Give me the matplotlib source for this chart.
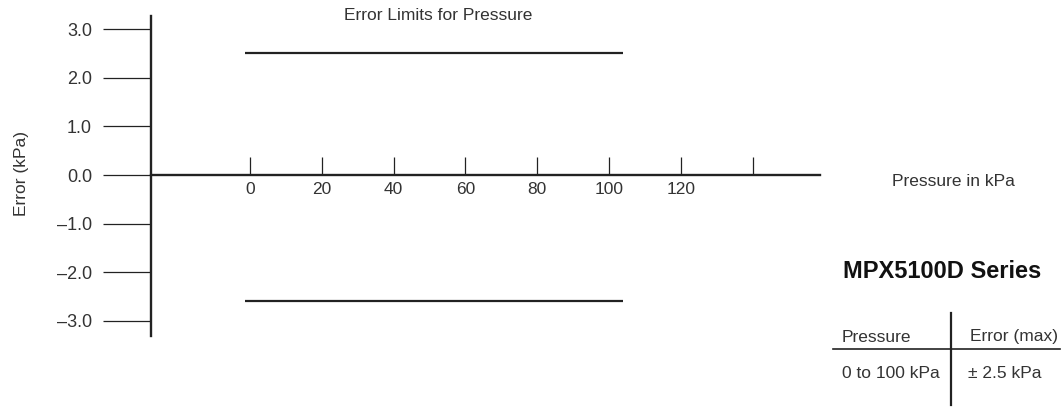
import matplotlib
matplotlib.use("Agg")
import matplotlib.pyplot as plt

# ---- data ----
pressure_ticks = [0, 20, 40, 60, 80, 100, 120, 140]
pressure_labels = ["0", "20", "40", "60", "80", "100", "120", ""]
error_ticks = [-3.0, -2.0, -1.0, 0.0, 1.0, 2.0, 3.0]
error_labels = ["\u20133.0", "\u20132.0", "\u20131.0", "0.0", "1.0", "2.0", "3.0"]
limit_x = [-1.5, 104]
upper_limit = [2.5, 2.5]
lower_limit = [-2.6, -2.6]

table_header = ["Pressure", "Error (max)"]
table_row = ["0 to 100 kPa", "\u00b1 2.5 kPa"]

FONT = ["Liberation Sans Narrow", "Liberation Sans", "DejaVu Sans"]
plt.rcParams["font.family"] = FONT
TXT = "#333333"
LINE = "#222222"

W, H = 1063, 408
fig = plt.figure(figsize=(W / 100, H / 100), dpi=100)

# main axes placed so data maps onto the reference pixel positions
ax = fig.add_axes([151 / W, 72 / H, (820 - 151) / W, 320 / H])
ax.set_xlim(-27.6, 158.8)
ax.set_ylim(-3.31, 3.27)

ax.plot(limit_x, upper_limit, color=LINE, lw=1.6, solid_capstyle="butt")
ax.plot(limit_x, lower_limit, color=LINE, lw=1.6, solid_capstyle="butt")

for s in ["top", "right"]:
    ax.spines[s].set_visible(False)
ax.spines["bottom"].set_position(("data", 0))
ax.spines["left"].set_linewidth(1.7)
ax.spines["bottom"].set_linewidth(1.7)
ax.spines["left"].set_color(LINE)
ax.spines["bottom"].set_color(LINE)

ax.set_yticks(error_ticks)
ax.set_yticklabels(error_labels)
ax.tick_params(axis="y", direction="out", length=34.5, width=0.9, pad=8,
               colors=LINE, labelcolor=TXT, labelsize=13)
ax.set_xticks(pressure_ticks)
ax.set_xticklabels(pressure_labels)
ax.tick_params(axis="x", direction="in", length=13, width=0.9, pad=5,
               colors=LINE, labelcolor=TXT, labelsize=12.5)

# overlay in pixel coordinates for texts and the small table
ov = fig.add_axes([0, 0, 1, 1])
ov.set_xlim(0, W)
ov.set_ylim(H, 0)
ov.axis("off")

ov.text(438, 16, "Error Limits for Pressure", ha="center", va="center",
        fontsize=12.5, color=TXT)
ov.text(22, 173, "Error (kPa)", ha="center", va="center", rotation=90,
        fontsize=12.5, color=TXT)
ov.text(953, 182, "Pressure in kPa", ha="center", va="center",
        fontsize=12.5, color=TXT)
ov.text(942, 272, "MPX5100D Series", ha="center", va="center",
        fontsize=17, fontweight="bold", color="#111111",
        family=["Liberation Sans", "DejaVu Sans"])

ov.plot([833, 1060], [349, 349], color=LINE, lw=1.2)
ov.plot([951, 951], [313, 405], color=LINE, lw=1.6)
ov.text(842, 337, table_header[0], ha="left", va="center", fontsize=12.5, color=TXT)
ov.text(970, 337, table_header[1], ha="left", va="center", fontsize=12.5, color=TXT)
ov.text(842, 373, table_row[0], ha="left", va="center", fontsize=12.5, color=TXT)
ov.text(968, 373, table_row[1], ha="left", va="center", fontsize=12.5, color=TXT)

fig.savefig("out.png", dpi=100)
